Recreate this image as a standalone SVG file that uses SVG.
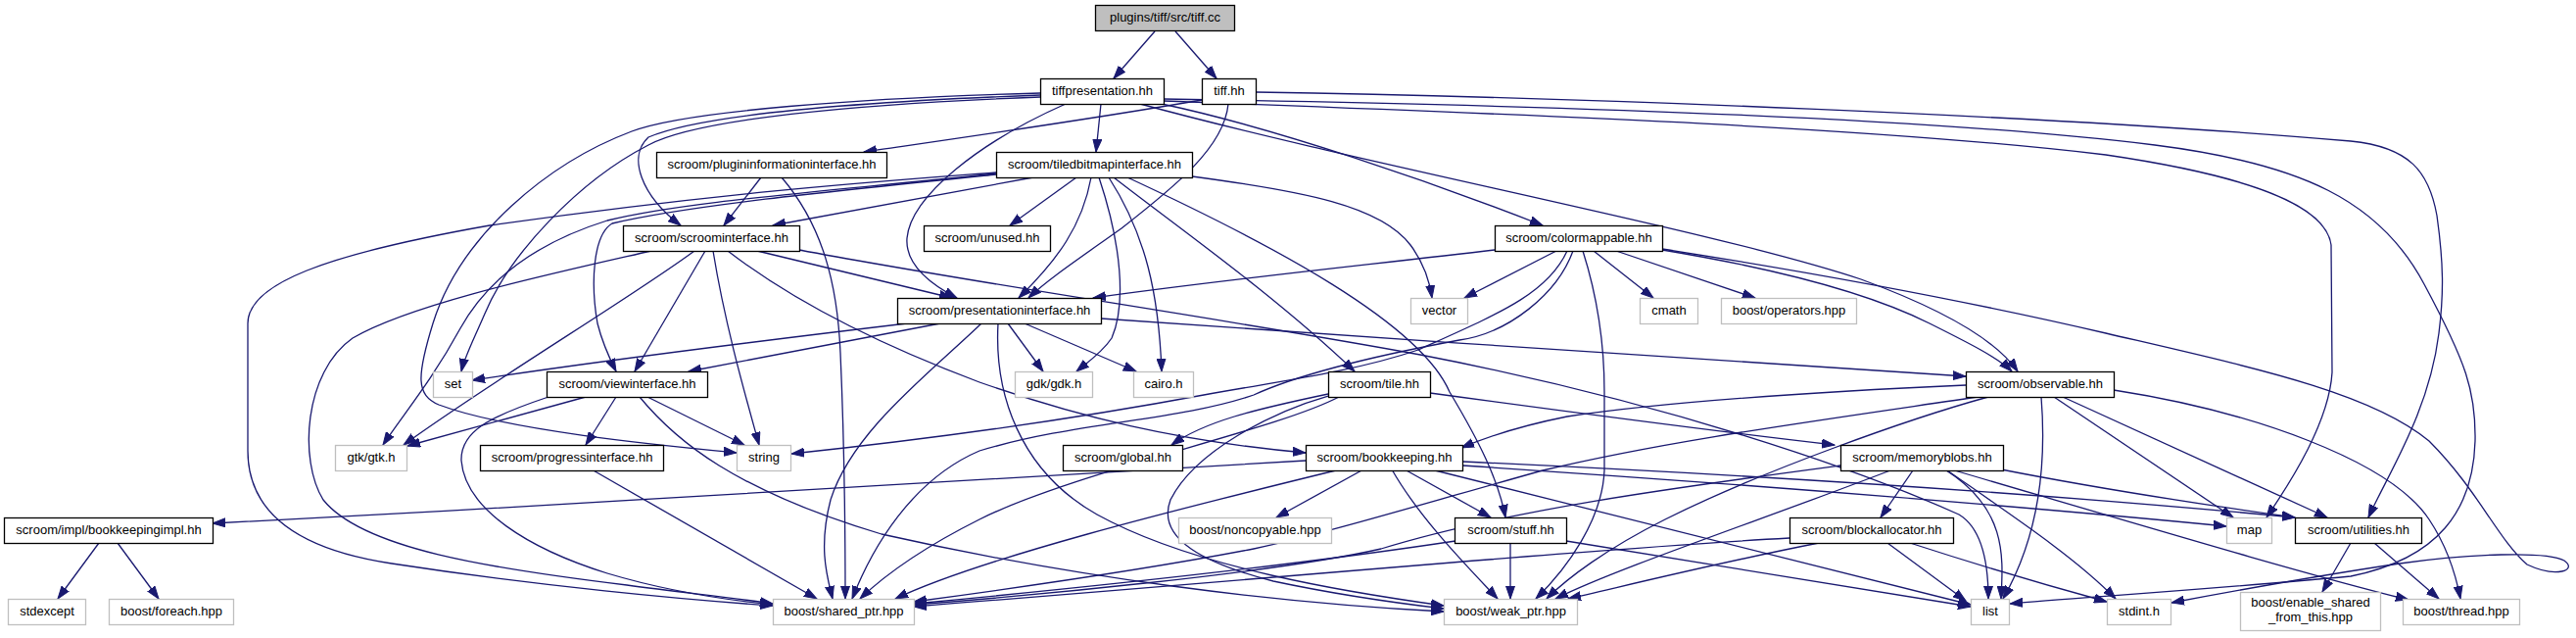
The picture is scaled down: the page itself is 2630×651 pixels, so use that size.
<svg xmlns="http://www.w3.org/2000/svg" width="2630" height="651" viewBox="0 0 2630 651">
<style>
.n rect{fill:#fff;stroke:#000;stroke-width:1.3}
.x rect{fill:#fff;stroke:#bfbfbf;stroke-width:1.3}
text{font-family:"Liberation Sans",Arial,Helvetica,sans-serif;font-size:13px;text-anchor:middle;fill:#000}
#edges path{fill:none;stroke:#191970;stroke-width:1.3;marker-end:url(#a)}
</style>
<defs>
<marker id="a" markerUnits="userSpaceOnUse" markerWidth="14" markerHeight="10" refX="13" refY="5" orient="auto"><path d="M0,0.5 L13,5 L0,9.5 z" fill="#191970" stroke="#191970" stroke-width="1"/></marker>
</defs>
<rect x="0" y="0" width="2630" height="651" fill="#fff"/>
<g id="edges">
<path d="M1179,32 L1137,80"/>
<path d="M1200,32 L1242,80"/>
<path d="M1124,106 L1119,155"/>
<path d="M1088,106 C1000,145 930,200 926,243 C924,270 950,290 977,304"/>
<path d="M1062,97 C900,103 720,115 662,140 C640,160 655,200 695,230"/>
<path d="M1062,99 C870,106 710,122 662,148 C590,185 520,260 495,320 C482,350 474,365 471,379"/>
<path d="M1062,95 C880,100 700,113 645,134 C560,166 470,240 442,330 C425,385 425,403 448,413 C520,440 680,455 752,462"/>
<path d="M1186,106 C1300,130 1460,185 1575,230"/>
<path d="M1164,106 C1400,170 1750,235 1900,285 C1990,318 2040,350 2060,379"/>
<path d="M1188,103 C1500,115 1900,128 2150,158 C2300,180 2375,210 2380,250 L2381,380 C2378,430 2340,490 2314,528"/>
<path d="M1188,101 C1500,106 1950,117 2200,148 C2350,167 2430,205 2475,290 C2518,370 2528,400 2527,450 C2525,520 2490,570 2400,588 C2250,602 2120,610 2052,616"/>
<path d="M1282,94 C1600,99 2100,118 2400,144 C2460,150 2480,175 2488,220 C2495,270 2495,300 2490,340 C2480,420 2440,480 2418,528"/>
<path d="M1227,102 C1100,124 950,145 882,155"/>
<path d="M1254,106 C1250,150 1200,190 1145,233 C1100,265 1070,285 1050,304"/>
<path d="M777,181 L739,230"/>
<path d="M798,181 C840,230 855,290 858,360 C862,450 863,560 863,611"/>
<path d="M1055,181 L789,230"/>
<path d="M1099,181 L1031,230"/>
<path d="M1114,181 C1105,230 1080,265 1040,304"/>
<path d="M1122,181 C1145,250 1150,310 1135,345 C1125,360 1110,370 1099,379"/>
<path d="M1132,181 C1170,240 1183,300 1186,379"/>
<path d="M1137,181 C1200,230 1300,300 1383,379"/>
<path d="M1151,181 C1300,250 1450,330 1480,400 C1510,450 1530,490 1537,528"/>
<path d="M1217,180 C1330,195 1410,210 1440,250 C1455,270 1460,290 1462,304"/>
<path d="M1017,176 C900,185 750,195 500,230 C330,260 253,290 253,330 L253,460 C253,520 300,560 400,575 C550,598 700,612 789,618"/>
<path d="M1017,177 C850,195 700,205 620,225 C540,250 495,290 470,335 C440,390 410,425 391,454"/>
<path d="M1017,178 C850,195 700,210 625,228 C605,240 603,290 610,330 C615,350 622,365 629,379"/>
<path d="M773,256 L972,304"/>
<path d="M709,256 C650,300 500,390 412,454"/>
<path d="M665,256 C560,280 420,310 360,345 C310,380 305,470 330,510 C370,560 500,580 640,597 C700,605 750,610 789,616"/>
<path d="M720,256 L648,379"/>
<path d="M728,256 C740,330 760,400 775,454"/>
<path d="M743,256 C800,300 880,345 1000,390 C1100,425 1200,450 1333,462"/>
<path d="M816,255 C1000,290 1250,325 1450,362 C1700,410 1900,480 2000,525 C2025,540 2030,580 2030,611"/>
<path d="M926,330 C800,345 600,370 482,388"/>
<path d="M960,330 L703,379"/>
<path d="M1002,330 C950,380 870,440 848,510 C835,560 845,590 850,611"/>
<path d="M1019,330 C1015,400 1040,480 1120,525 C1220,580 1380,605 1474,618"/>
<path d="M1029,330 L1065,379"/>
<path d="M1046,330 L1160,379"/>
<path d="M1124,325 C1400,345 1800,370 2007,384"/>
<path d="M1526,255 C1400,270 1250,285 1116,304"/>
<path d="M1589,256 L1495,304"/>
<path d="M1627,256 L1688,304"/>
<path d="M1650,256 L1792,304"/>
<path d="M1697,255 C1800,272 1900,295 1970,330 C2010,350 2040,365 2054,379"/>
<path d="M1697,254 C1850,278 2000,305 2150,340 C2300,375 2420,400 2480,450 C2530,500 2550,550 2580,576 C2610,590 2632,582 2618,572 C2600,562 2520,565 2450,575 C2350,590 2270,605 2217,615"/>
<path d="M1600,256 C1580,300 1530,320 1448,357 C1380,380 1300,390 1229,403 C1100,427 950,448 808,463"/>
<path d="M1606,256 C1590,300 1540,340 1490,347 C1420,360 1330,380 1280,403 C1200,430 1100,430 1000,460 C930,490 890,560 870,611"/>
<path d="M1616,256 C1630,300 1638,350 1638,400 L1638,480 C1636,530 1600,580 1568,611"/>
<path d="M598,405 L416,455"/>
<path d="M629,405 L598,454"/>
<path d="M661,405 L760,454"/>
<path d="M653,405 C690,450 750,500 900,545 C1100,590 1300,615 1474,624"/>
<path d="M560,405 C500,425 470,440 471,470 C475,520 540,560 620,585 C680,603 740,612 789,617"/>
<path d="M604,479 L834,611"/>
<path d="M1333,470 C1000,488 600,515 217,534"/>
<path d="M101,554 L59,611"/>
<path d="M120,554 L162,611"/>
<path d="M1392,479 L1303,528"/>
<path d="M1434,479 L1522,528"/>
<path d="M1421,479 C1450,530 1500,580 1529,611"/>
<path d="M1368,479 C1200,520 1000,570 914,611"/>
<path d="M1461,479 L2012,617"/>
<path d="M1493,471 C1800,485 2100,505 2343,528"/>
<path d="M1493,475 C1800,495 2100,520 2273,537"/>
<path d="M1356,402 C1280,418 1230,430 1196,454"/>
<path d="M1367,405 C1300,440 1100,480 1000,530 C940,560 900,590 878,611"/>
<path d="M1356,404 C1300,420 1220,460 1195,510 C1180,550 1230,575 1300,593 C1380,610 1440,617 1474,621"/>
<path d="M1460,401 C1600,420 1750,440 1873,454"/>
<path d="M2007,393 C1850,400 1700,410 1600,425 C1550,435 1520,445 1492,457"/>
<path d="M2026,404 C1850,430 1700,450 1575,480 C1450,515 1350,545 1280,560 C1150,585 1000,605 933,614"/>
<path d="M2030,405 C1950,427 1800,480 1700,530 C1640,560 1600,590 1579,611"/>
<path d="M2084,405 C2090,480 2080,550 2045,611"/>
<path d="M2097,405 L2280,528"/>
<path d="M2106,405 L2376,528"/>
<path d="M2158,398 C2300,420 2440,470 2480,530 C2500,560 2508,590 2512,611"/>
<path d="M1953,480 L1920,528"/>
<path d="M1987,480 C2050,520 2045,570 2043,611"/>
<path d="M1988,480 C2060,530 2120,570 2160,611"/>
<path d="M1992,479 C2200,540 2350,585 2459,612"/>
<path d="M2043,479 C2150,500 2250,515 2343,528"/>
<path d="M1930,480 C1800,530 1650,580 1588,611"/>
<path d="M1879,475 C1714,497 1540,520 1410,560 C1300,585 1050,608 933,617"/>
<path d="M1827,549 C1627,560 1300,590 933,619"/>
<path d="M1857,554 C1750,575 1650,600 1601,611"/>
<path d="M1927,554 L2007,613"/>
<path d="M1950,554 C2030,580 2100,600 2151,614"/>
<path d="M1542,554 L1542,611"/>
<path d="M1486,552 C1300,580 1050,605 933,616"/>
<path d="M1599,552 C1800,585 1950,610 2012,619"/>
<path d="M2400,554 L2371,604"/>
<path d="M2424,554 L2490,611"/>
</g>
<g id="tiffcc" class="n"><rect x="1118.5" y="5.5" width="142" height="26" style="fill:#bfbfbf"/><text x="1189.5" y="22">plugins/tiff/src/tiff.cc</text></g>
<g id="tiffpresentation" class="n"><rect x="1062.5" y="80.5" width="126" height="26"/><text x="1125.5" y="97">tiffpresentation.hh</text></g>
<g id="tiffhh" class="n"><rect x="1227.5" y="80.5" width="55" height="26"/><text x="1255" y="97">tiff.hh</text></g>
<g id="plugininformationinterface" class="n"><rect x="670.5" y="155.5" width="235" height="26"/><text x="788" y="172">scroom/plugininformationinterface.hh</text></g>
<g id="tiledbitmapinterface" class="n"><rect x="1017.5" y="155.5" width="200" height="26"/><text x="1117.5" y="172">scroom/tiledbitmapinterface.hh</text></g>
<g id="scroominterface" class="n"><rect x="636.5" y="230.5" width="180" height="26"/><text x="726.5" y="247">scroom/scroominterface.hh</text></g>
<g id="unused" class="n"><rect x="943.5" y="230.5" width="129" height="26"/><text x="1008" y="247">scroom/unused.hh</text></g>
<g id="colormappable" class="n"><rect x="1526.5" y="230.5" width="171" height="26"/><text x="1612" y="247">scroom/colormappable.hh</text></g>
<g id="presentationinterface" class="n"><rect x="916.5" y="304.5" width="208" height="26"/><text x="1020.5" y="321">scroom/presentationinterface.hh</text></g>
<g id="vector" class="x"><rect x="1440.5" y="304.5" width="58" height="26"/><text x="1469.5" y="321">vector</text></g>
<g id="cmath" class="x"><rect x="1674.5" y="304.5" width="59" height="26"/><text x="1704" y="321">cmath</text></g>
<g id="operators" class="x"><rect x="1757.5" y="304.5" width="138" height="26"/><text x="1826.5" y="321">boost/operators.hpp</text></g>
<g id="set" class="x"><rect x="442.5" y="379.5" width="40" height="26"/><text x="462.5" y="396">set</text></g>
<g id="viewinterface" class="n"><rect x="558.5" y="379.5" width="164" height="26"/><text x="640.5" y="396">scroom/viewinterface.hh</text></g>
<g id="gdk" class="x"><rect x="1036.5" y="379.5" width="79" height="26"/><text x="1076" y="396">gdk/gdk.h</text></g>
<g id="cairo" class="x"><rect x="1157.5" y="379.5" width="61" height="26"/><text x="1188" y="396">cairo.h</text></g>
<g id="tile" class="n"><rect x="1356.5" y="379.5" width="104" height="26"/><text x="1408.5" y="396">scroom/tile.hh</text></g>
<g id="observable" class="n"><rect x="2007.5" y="379.5" width="151" height="26"/><text x="2083" y="396">scroom/observable.hh</text></g>
<g id="gtk" class="x"><rect x="342.5" y="454.5" width="73" height="26"/><text x="379" y="471">gtk/gtk.h</text></g>
<g id="progressinterface" class="n"><rect x="490.5" y="454.5" width="187" height="26"/><text x="584" y="471">scroom/progressinterface.hh</text></g>
<g id="string" class="x"><rect x="752.5" y="454.5" width="55" height="26"/><text x="780" y="471">string</text></g>
<g id="global" class="n"><rect x="1085.5" y="454.5" width="122" height="26"/><text x="1146.5" y="471">scroom/global.hh</text></g>
<g id="bookkeeping" class="n"><rect x="1333.5" y="454.5" width="160" height="26"/><text x="1413.5" y="471">scroom/bookkeeping.hh</text></g>
<g id="memoryblobs" class="n"><rect x="1879.5" y="454.5" width="166" height="26"/><text x="1962.5" y="471">scroom/memoryblobs.hh</text></g>
<g id="bookkeepingimpl" class="n"><rect x="4.5" y="528.5" width="213" height="26"/><text x="111" y="545">scroom/impl/bookkeepingimpl.hh</text></g>
<g id="noncopyable" class="x"><rect x="1203.5" y="528.5" width="156" height="26"/><text x="1281.5" y="545">boost/noncopyable.hpp</text></g>
<g id="stuff" class="n"><rect x="1485.5" y="528.5" width="114" height="26"/><text x="1542.5" y="545">scroom/stuff.hh</text></g>
<g id="blockallocator" class="n"><rect x="1827.5" y="528.5" width="167" height="26"/><text x="1911" y="545">scroom/blockallocator.hh</text></g>
<g id="map" class="x"><rect x="2273.5" y="528.5" width="46" height="26"/><text x="2296.5" y="545">map</text></g>
<g id="utilities" class="n"><rect x="2343.5" y="528.5" width="129" height="26"/><text x="2408" y="545">scroom/utilities.hh</text></g>
<g id="stdexcept" class="x"><rect x="8.5" y="611.5" width="79" height="26"/><text x="48" y="628">stdexcept</text></g>
<g id="foreach" class="x"><rect x="111.5" y="611.5" width="127" height="26"/><text x="175" y="628">boost/foreach.hpp</text></g>
<g id="shared_ptr" class="x"><rect x="789.5" y="611.5" width="144" height="26"/><text x="861.5" y="628">boost/shared_ptr.hpp</text></g>
<g id="weak_ptr" class="x"><rect x="1474.5" y="611.5" width="136" height="26"/><text x="1542.5" y="628">boost/weak_ptr.hpp</text></g>
<g id="list" class="x"><rect x="2012.5" y="611.5" width="39" height="26"/><text x="2032" y="628">list</text></g>
<g id="stdint" class="x"><rect x="2151.5" y="611.5" width="65" height="26"/><text x="2184" y="628">stdint.h</text></g>
<g id="enable_shared" class="x"><rect x="2287.5" y="604.5" width="143" height="39"/><text x="2359" y="619">boost/enable_shared</text><text x="2359" y="634">_from_this.hpp</text></g>
<g id="thread" class="x"><rect x="2453.5" y="611.5" width="119" height="26"/><text x="2513" y="628">boost/thread.hpp</text></g>
</svg>
